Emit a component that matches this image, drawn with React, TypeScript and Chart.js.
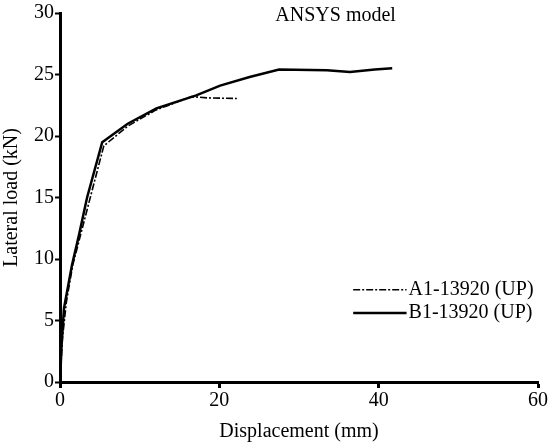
import React, { useEffect, useRef } from "react";
import { Chart, registerables } from "chart.js";

Chart.register(...registerables);

const seriesLabels = ["A1-13920 (UP)", "B1-13920 (UP)"];
const a1X = [0, 0.3, 0.8, 1.6, 2.6, 3.8, 5.5, 8.5, 12.0, 16.5, 18.5, 22.2];
const a1Y = [0, 3.5, 6.5, 9.5, 12.0, 15.0, 19.2, 20.8, 22.1, 23.2, 23.1, 23.05];
const b1X = [0, 0.2, 0.5, 1.5, 2.4, 3.4, 5.3, 8.5, 12.1, 17.1, 20.1, 23.8, 27.5, 33.5, 36.4, 39.5, 41.7];
const b1Y = [0, 3.0, 6.0, 9.5, 12.0, 15.0, 19.5, 21.0, 22.25, 23.3, 24.1, 24.8, 25.4, 25.35, 25.2, 25.4, 25.5];
const xTicksMax = 60;
const yTicksMax = 30;
const titleText = "ANSYS model";
const xTitle = "Displacement (mm)";
const yTitle = "Lateral load (kN)";

const FONT = "'Liberation Serif', 'Times New Roman', serif";

const toPts = (xs: number[], ys: number[]) => xs.map((x, i) => ({ x, y: ys[i] }));

const overlayPlugin = {
  id: "overlay",
  afterDatasetsDraw(chart: any) {
    const ctx = chart.ctx;
    const xs = chart.scales.x;
    const ys = chart.scales.y;
    ctx.save();
    ctx.fillStyle = "#000";
    ctx.font = `20px ${FONT}`;
    ctx.textBaseline = "middle";
    ctx.textAlign = "center";
    ctx.fillText(titleText, xs.getPixelForValue(34.6), ys.getPixelForValue(29.8));
    // legend
    const lx0 = xs.getPixelForValue(36.8);
    const lx1 = xs.getPixelForValue(43.5);
    const rows = [ys.getPixelForValue(7.5), ys.getPixelForValue(5.6)];
    chart.data.datasets.forEach((ds: any, i: number) => {
      const yy = rows[i];
      ctx.beginPath();
      ctx.setLineDash(ds.borderDash || []);
      ctx.lineWidth = ds.borderWidth;
      ctx.strokeStyle = "#000";
      ctx.moveTo(lx0, yy);
      ctx.lineTo(lx1, yy);
      ctx.stroke();
      ctx.setLineDash([]);
      ctx.textAlign = "left";
      ctx.fillText(ds.label, lx1 + 2, yy);
    });
    ctx.restore();
  },
};

export default function App() {
  const ref = useRef<HTMLCanvasElement | null>(null);
  useEffect(() => {
    document.body.style.margin = "0";
    const canvas = ref.current!;
    const chart = new Chart(canvas, {
      type: "scatter",
      data: {
        datasets: [
          {
            label: seriesLabels[0],
            data: toPts(a1X, a1Y),
            showLine: true,
            borderColor: "#000",
            borderWidth: 1.6,
            borderDash: [7, 2, 2, 2],
            pointRadius: 0,
            tension: 0,
            order: 1,
          },
          {
            label: seriesLabels[1],
            data: toPts(b1X, b1Y),
            showLine: true,
            borderColor: "#000",
            borderWidth: 2.5,
            pointRadius: 0,
            tension: 0,
            order: 2,
          },
        ] as any,
      },
      options: {
        animation: false,
        responsive: false,
        maintainAspectRatio: false,
        layout: { padding: { left: 0, top: 13, right: 13, bottom: 0 } },
        plugins: { legend: { display: false }, tooltip: { enabled: false }, title: { display: false } },
        scales: {
          x: {
            type: "linear",
            min: 0,
            max: xTicksMax,
            ticks: { stepSize: 20, color: "#000", font: { family: FONT, size: 20 }, padding: 1, maxRotation: 0 },
            grid: { display: true, drawOnChartArea: false, drawTicks: true, tickLength: 6, tickWidth: 3, tickColor: "#000" } as any,
            border: { display: true, color: "#000", width: 3 },
            title: { display: true, text: xTitle, color: "#000", font: { family: FONT, size: 20 }, padding: { top: 3, bottom: 0 } },
            afterFit: (s: any) => { s.height = 62; },
          },
          y: {
            type: "linear",
            min: 0,
            max: yTicksMax,
            ticks: { stepSize: 5, color: "#000", font: { family: FONT, size: 20 }, padding: 1 },
            grid: { display: true, drawOnChartArea: false, drawTicks: true, tickLength: 5, tickWidth: 2, tickColor: "#000" } as any,
            border: { display: true, color: "#000", width: 3 },
            title: { display: true, text: yTitle, color: "#000", font: { family: FONT, size: 20 }, padding: { top: 0, bottom: 3 } },
            afterFit: (s: any) => { s.width = 60; },
          },
        },
      },
      plugins: [overlayPlugin],
    });
    return () => chart.destroy();
  }, []);
  return <canvas ref={ref} width={551} height={444} style={{ display: "block", width: 551, height: 444 }} />;
}
